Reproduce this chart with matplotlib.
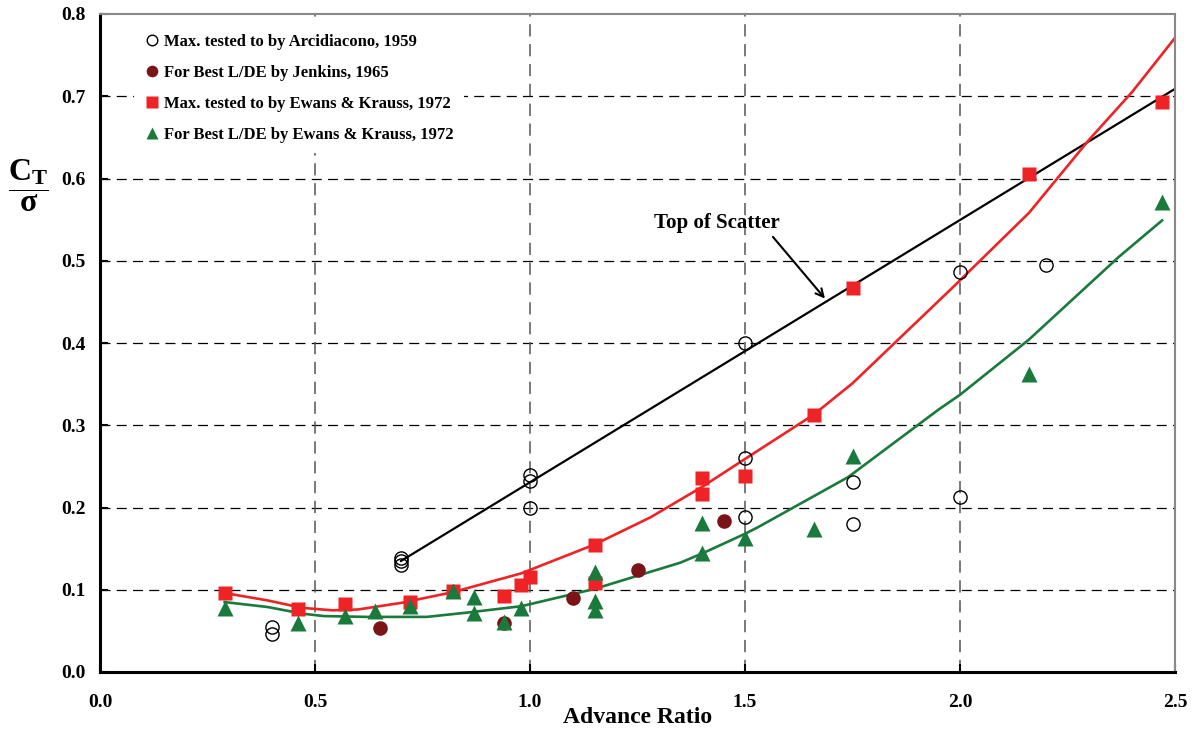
import matplotlib
matplotlib.use("Agg")
import matplotlib.pyplot as plt

plt.rcParams['font.family'] = ['Liberation Serif', 'DejaVu Serif']
plt.rcParams['font.weight'] = 'bold'
plt.rcParams['mathtext.fontset'] = 'custom'
plt.rcParams['mathtext.rm'] = 'Liberation Serif:bold'
plt.rcParams['mathtext.bf'] = 'Liberation Serif:bold'
plt.rcParams['mathtext.it'] = 'Liberation Serif:bold'

# Arcidiacono 1959 - max tested to
arc_x = [0.40, 0.40, 0.70, 0.70, 0.70, 1.00, 1.00, 1.00, 1.50, 1.50, 1.50, 1.75, 1.75, 2.00, 2.00, 2.20]
arc_y = [0.055, 0.046, 0.139, 0.135, 0.130, 0.240, 0.232, 0.200, 0.400, 0.260, 0.188, 0.231, 0.180, 0.486, 0.213, 0.495]

# Jenkins 1965 - best L/DE
jen_x = [0.65, 0.94, 1.10, 1.25, 1.45]
jen_y = [0.053, 0.060, 0.090, 0.124, 0.183]

# Ewans & Krauss 1972 - max tested to
ekmax_x = [0.29, 0.46, 0.57, 0.72, 0.82, 0.94, 0.98, 1.00, 1.15, 1.15, 1.40, 1.40, 1.50, 1.66, 1.75, 2.16, 2.47]
ekmax_y = [0.096, 0.077, 0.083, 0.085, 0.098, 0.093, 0.106, 0.116, 0.155, 0.108, 0.236, 0.217, 0.238, 0.313, 0.467, 0.605, 0.693]

# Ewans & Krauss 1972 - best L/DE
ekbest_x = [0.29, 0.46, 0.57, 0.64, 0.72, 0.82, 0.87, 0.87, 0.94, 0.98, 1.15, 1.15, 1.15, 1.40, 1.40, 1.50, 1.66, 1.75, 2.16, 2.47]
ekbest_y = [0.078, 0.060, 0.068, 0.074, 0.080, 0.098, 0.091, 0.072, 0.061, 0.078, 0.122, 0.086, 0.075, 0.181, 0.145, 0.163, 0.174, 0.263, 0.362, 0.572]

# trend lines
top_x = [0.70, 2.50]
top_y = [0.135, 0.709]

red_x = [0.29, 0.39, 0.47, 0.54, 0.60, 0.70, 0.82, 0.98, 1.15, 1.28, 1.40, 1.50, 1.66, 1.75, 1.86, 1.98, 2.16, 2.30, 2.40, 2.50]
red_y = [0.096, 0.087, 0.078, 0.075, 0.076, 0.084, 0.097, 0.120, 0.155, 0.188, 0.225, 0.259, 0.313, 0.351, 0.406, 0.466, 0.558, 0.647, 0.705, 0.771]

grn_x = [0.29, 0.39, 0.47, 0.52, 0.62, 0.76, 0.85, 0.98, 1.15, 1.35, 1.40, 1.50, 1.53, 1.74, 1.95, 2.00, 2.16, 2.37, 2.47]
grn_y = [0.085, 0.079, 0.071, 0.068, 0.067, 0.067, 0.072, 0.080, 0.101, 0.133, 0.144, 0.168, 0.176, 0.237, 0.319, 0.337, 0.404, 0.505, 0.549]

x_ticks = [0.0, 0.5, 1.0, 1.5, 2.0, 2.5]
y_ticks = [0.0, 0.1, 0.2, 0.3, 0.4, 0.5, 0.6, 0.7, 0.8]

RED = '#ee2326'
GREEN = '#1a7a3c'
DARKRED = '#7a1416'

fig = plt.figure(figsize=(11.95, 7.31), dpi=100)
ax = fig.add_axes([100 / 1195, 59 / 731, 1075 / 1195, 658 / 731])

# grid
for yv in y_ticks[1:-1]:
    ax.axhline(yv, color='black', lw=0.9, ls=(0, (8, 5)), zorder=1)
for xv in x_ticks[1:-1]:
    ax.axvline(xv, color='#555555', lw=1.1, ls=(0, (8, 5)), zorder=1)

ax.plot(top_x, top_y, color='black', lw=1.6, zorder=2)
ax.plot(red_x, red_y, color=RED, lw=1.9, zorder=2)
ax.plot(grn_x, grn_y, color=GREEN, lw=1.9, zorder=2)

ax.plot(arc_x, arc_y, ls='none', marker='o', ms=9.5, mfc='none', mec='black', mew=1.0, zorder=4,
        label='Max. tested to by Arcidiacono, 1959')
ax.plot(jen_x, jen_y, ls='none', marker='o', ms=10.5, color=DARKRED, mec='none', zorder=3,
        label='For Best L/DE by Jenkins, 1965')
ax.plot(ekmax_x, ekmax_y, ls='none', marker='s', ms=10.5, color=RED, mec='none', zorder=3,
        label='Max. tested to by Ewans & Krauss, 1972')
ax.plot(ekbest_x, ekbest_y, ls='none', marker='^', ms=11.5, color=GREEN, mec='none', zorder=3,
        label='For Best L/DE by Ewans & Krauss, 1972')

ax.text(1.435, 0.546, 'Top of Scatter', fontsize=15, fontweight='bold', ha='center', va='center')
ax.annotate('', xy=(1.686, 0.454), xytext=(1.565, 0.529),
            arrowprops=dict(arrowstyle='->', color='black', lw=1.5,
                            shrinkA=0, shrinkB=0, mutation_scale=14))

ax.set_xlim(0, 2.5)
ax.set_ylim(0, 0.8)
ax.set_xticks(x_ticks)
ax.set_yticks(y_ticks)
ax.set_xticklabels(['%.1f' % v for v in x_ticks], fontsize=14, fontweight='bold')
ax.set_yticklabels(['%.1f' % v for v in y_ticks], fontsize=14, fontweight='bold')
ax.tick_params(axis='both', direction='in', length=6, width=1.5, color='black')
ax.tick_params(axis='x', pad=16)
ax.tick_params(axis='y', pad=10)

for side in ['left', 'bottom']:
    ax.spines[side].set_linewidth(2.2)
    ax.spines[side].set_color('black')
for side in ['top', 'right']:
    ax.spines[side].set_linewidth(1.5)
    ax.spines[side].set_color('#888888')

ax.set_xlabel('Advance Ratio', fontsize=17, fontweight='bold', labelpad=-3)

fig.text(28 / 1195, 1 - 186 / 731, r'$\dfrac{C_\mathrm{T}}{\sigma}$', fontsize=23,
         ha='center', va='center')

leg = ax.legend(loc='upper left', bbox_to_anchor=(0.032, 0.985), frameon=True,
                facecolor='white', edgecolor='none', framealpha=1, fancybox=False,
                fontsize=12, handlelength=0.9, handletextpad=0.3, borderpad=0.6,
                borderaxespad=0, labelspacing=0.9, markerscale=0.8)
leg.set_zorder(5)

fig.savefig('out.png', dpi=100)
